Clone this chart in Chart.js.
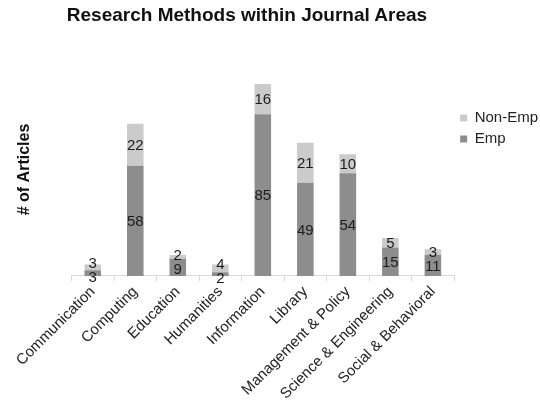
<!DOCTYPE html>
<html>
<head>
<meta charset="utf-8">
<script src="https://cdn.jsdelivr.net/npm/chart.js@4"></script>
<style>
  html, body { margin: 0; padding: 0; background: #ffffff; }
  #wrap { position: relative; width: 540px; height: 414px; }
  #title {
    position: absolute; left: 0; top: 4px; width: 494px; text-align: center;
    font: bold 19px "Liberation Sans", Arial, sans-serif; color: #111111;
  }
  canvas { display: block; }
</style>
</head>
<body>
<div id="wrap">
  <div id="title">Research Methods within Journal Areas</div>
  <canvas id="chart" width="540" height="414"></canvas>
</div>
<script>
// Journal areas and article counts per research method
const areas = ['Communication', 'Computing', 'Education', 'Humanities', 'Information',
               'Library', 'Management & Policy', 'Science & Engineering', 'Social & Behavioral'];
const empCounts = [3, 58, 9, 2, 85, 49, 54, 15, 11];
const nonEmpCounts = [3, 22, 2, 4, 16, 21, 10, 5, 3];
const seriesNames = ['Emp', 'Non-Emp'];

const FONT = '"Liberation Sans", Arial, sans-serif';

// Writes each segment's count in the middle of its segment; when the two
// labels of one column would collide they are nudged apart.
const segmentLabels = {
  id: 'segmentLabels',
  afterDatasetsDraw(chart) {
    const ctx = chart.ctx;
    const low = chart.getDatasetMeta(0);
    const high = chart.getDatasetMeta(1);
    ctx.save();
    ctx.font = '15px ' + FONT;
    ctx.fillStyle = '#1c1c1c';
    ctx.textAlign = 'center';
    ctx.textBaseline = 'middle';
    const minGap = 14;
    chart.data.labels.forEach((_, i) => {
      const a = low.data[i], b = high.data[i];
      let yLow = (a.y + a.base) / 2;
      let yHigh = (b.y + b.base) / 2;
      if (yLow - yHigh < minGap) {
        const mid = (yLow + yHigh) / 2;
        yHigh = mid - minGap / 2;
        yLow = mid + minGap / 2;
      }
      ctx.fillText(String(chart.data.datasets[0].data[i]), a.x, yLow + 1);
      ctx.fillText(String(chart.data.datasets[1].data[i]), b.x, yHigh + 1);
    });
    ctx.restore();
  }
};

new Chart(document.getElementById('chart'), {
  type: 'bar',
  data: {
    labels: areas,
    datasets: [
      { label: seriesNames[0], data: empCounts, backgroundColor: '#8d8d8d',
        categoryPercentage: 1, barPercentage: 0.39 },
      { label: seriesNames[1], data: nonEmpCounts, backgroundColor: '#cbcbcb',
        categoryPercentage: 1, barPercentage: 0.39 }
    ]
  },
  options: {
    responsive: false,
    animation: false,
    layout: { padding: { top: 63, left: 0, right: -8, bottom: 9 } },
    plugins: {
      legend: {
        position: 'right',
        align: 'start',
        reverse: true,
        title: { display: true, text: ' ', font: { size: 12 }, padding: { top: 0, bottom: 27 } },
        labels: { boxWidth: 7, boxHeight: 7, padding: 6, color: '#222222',
                  font: { size: 15, family: FONT } }
      },
      tooltip: { enabled: false }
    },
    scales: {
      x: {
        stacked: true,
        grid: { offset: true, drawOnChartArea: false, color: '#d9d9d9', tickLength: 5 },
        border: { color: '#d9d9d9' },
        ticks: { autoSkip: false, minRotation: 45, maxRotation: 45, padding: 2,
                 color: '#222222', font: { size: 15, family: FONT } }
      },
      y: {
        stacked: true,
        min: 0,
        max: 112,
        grid: { display: false },
        border: { display: false },
        ticks: { display: false },
        title: { display: true, text: '# of Articles', color: '#111111',
                 font: { size: 16, weight: 'bold', family: FONT },
                 padding: { top: 15, bottom: 0 } },
        afterFit(scale) { scale.width = 71.5; }
      }
    }
  },
  plugins: [segmentLabels]
});
</script>
</body>
</html>
